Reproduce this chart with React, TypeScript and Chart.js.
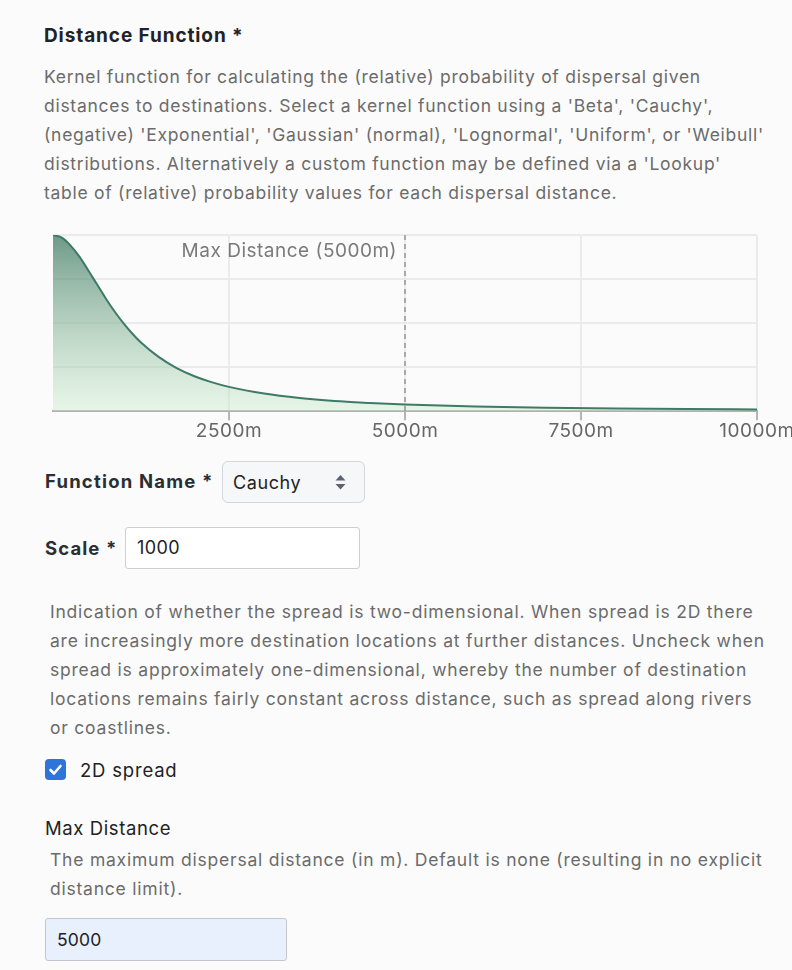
import React, { useEffect, useRef } from "react";
import { Chart, registerables } from "chart.js";

Chart.register(...registerables);

// ---- data ----
const distances = [0, 125, 250, 375, 500, 625, 750, 875, 1000, 1125, 1250, 1500, 1750, 2000, 2250, 2500, 3000, 3500, 4000, 4500, 5000, 6000, 7000, 8000, 9000, 10000];
const probability = [1.0, 0.985, 0.94, 0.877, 0.8, 0.72, 0.64, 0.566, 0.5, 0.441, 0.39, 0.308, 0.246, 0.2, 0.165, 0.138, 0.1, 0.075, 0.058, 0.047, 0.038, 0.027, 0.02, 0.015, 0.012, 0.01];
const xTickValues = [2500, 5000, 7500, 10000];
const yTickValues = [0, 0.25, 0.5, 0.75, 1];
const maxDistance = 5000;
const maxDistanceLabel = "Max Distance (5000m)";

const descLines = [
  "Kernel function for calculating the (relative) probability of dispersal given",
  "distances to destinations. Select a kernel function using a 'Beta', 'Cauchy',",
  "(negative) 'Exponential', 'Gaussian' (normal), 'Lognormal', 'Uniform', or 'Weibull'",
  "distributions. Alternatively a custom function may be defined via a 'Lookup'",
  "table of (relative) probability values for each dispersal distance.",
];
const spreadLines = [
  "Indication of whether the spread is two-dimensional. When spread is 2D there",
  "are increasingly more destination locations at further distances. Uncheck when",
  "spread is approximately one-dimensional, whereby the number of destination",
  "locations remains fairly constant across distance, such as spread along rivers",
  "or coastlines.",
];
const maxDistLines = [
  "The maximum dispersal distance (in m). Default is none (resulting in no explicit",
  "distance limit).",
];

const FONT = "Inter, 'Noto Sans', sans-serif";
const CANVAS_LS = "0.5px";

function T(props: { x: number; y: number; size: number; weight?: number; color: string; lh?: number; children: any; ls?: number }) {
  const lh = props.lh ?? 28;
  return (
    <div
      style={{
        position: "absolute",
        left: props.x,
        top: props.y - lh / 2,
        lineHeight: lh + "px",
        fontSize: props.size,
        fontWeight: props.weight ?? 400,
        color: props.color,
        whiteSpace: "nowrap",
        letterSpacing: props.ls ?? 0,
      }}
    >
      {props.children}
    </div>
  );
}

function Lines(props: { x: number; y0: number; step: number; size: number; color: string; lines: string[]; ls?: number }) {
  return (
    <>
      {props.lines.map((l, i) => (
        <T key={i} x={props.x} y={props.y0 + i * props.step} size={props.size} color={props.color} ls={props.ls}>
          {l}
        </T>
      ))}
    </>
  );
}

const spacingPlugin = {
  id: "spacing",
  beforeUpdate(chart: any) {
    chart.ctx.letterSpacing = CANVAS_LS;
  },
  beforeDraw(chart: any) {
    chart.ctx.letterSpacing = CANVAS_LS;
  },
};

const maxLinePlugin = {
  id: "maxLine",
  afterDatasetsDraw(chart: any) {
    const { ctx, chartArea, scales } = chart;
    const x = scales.x.getPixelForValue(maxDistance);
    ctx.save();
    ctx.strokeStyle = "#9a9a9a";
    ctx.lineWidth = 1.6;
    ctx.setLineDash([5, 4]);
    ctx.beginPath();
    ctx.moveTo(x, chartArea.top);
    ctx.lineTo(x, chartArea.bottom);
    ctx.stroke();
    ctx.setLineDash([]);
    ctx.fillStyle = "#7a7a7a";
    ctx.font = "19px " + FONT;
    ctx.letterSpacing = CANVAS_LS;
    ctx.textAlign = "right";
    ctx.textBaseline = "middle";
    ctx.fillText(maxDistanceLabel, x - 8, chartArea.top + 16);
    ctx.restore();
  },
};

function KernelChart() {
  const ref = useRef<HTMLCanvasElement>(null);
  useEffect(() => {
    const canvas = ref.current!;
    const chart = new Chart(canvas, {
      type: "line",
      data: {
        datasets: [
          {
            data: distances.map((d, i) => ({ x: d, y: probability[i] })),
            borderColor: "#3f7a66",
            borderWidth: 2,
            pointRadius: 0,
            tension: 0.4,
            cubicInterpolationMode: "monotone",
            fill: "origin",
            backgroundColor: (c: any) => {
              const area = c.chart.chartArea;
              if (!area) return "rgba(60,120,95,0.4)";
              const g = c.chart.ctx.createLinearGradient(0, area.top, 0, area.bottom);
              g.addColorStop(0, "rgba(55,115,92,0.72)");
              g.addColorStop(1, "rgba(200,235,200,0.4)");
              return g;
            },
          },
        ],
      },
      options: {
        animation: false,
        responsive: false,
        devicePixelRatio: 1,
        layout: { padding: { left: 8, right: 35, top: 10, bottom: 14 } },
        plugins: { legend: { display: false }, tooltip: { enabled: false } },
        scales: {
          x: {
            type: "linear",
            min: 0,
            max: 10000,
            afterBuildTicks: (s: any) => {
              s.ticks = xTickValues.map((v) => ({ value: v }));
            },
            afterFit: (s: any) => {
              s.paddingLeft = 0;
              s.paddingRight = 0;
            },
            ticks: {
              callback: (v: any) => v + "m",
              color: "#666",
              font: { family: FONT, size: 19 },
              padding: 0,
              maxRotation: 0,
            },
            grid: { color: "#ebebeb", lineWidth: 2, tickColor: "#b5b5b5", tickLength: 9 },
            border: { color: "#b0b0b0", width: 2 },
          },
          y: {
            min: 0,
            max: 1,
            afterBuildTicks: (s: any) => {
              s.ticks = yTickValues.map((v) => ({ value: v }));
            },
            ticks: { display: false },
            grid: { color: "#ebebeb", lineWidth: 2, drawTicks: false },
            border: { display: false },
          },
        },
      },
      plugins: [spacingPlugin, maxLinePlugin],
    } as any);
    return () => chart.destroy();
  }, []);
  return (
    <canvas
      ref={ref}
      width={747}
      height={232}
      style={{ position: "absolute", left: 45, top: 225, width: 747, height: 232 }}
    />
  );
}

export default function App() {
  return (
    <div
      style={{
        position: "absolute",
        left: 0,
        top: 0,
        width: 792,
        height: 970,
        overflow: "hidden",
        background: "#fbfbfb",
        fontFamily: FONT,
      }}
    >
      <T x={44} y={36} size={19} weight={700} color="#1f2328" ls={0.9}>
        Distance Function *
      </T>
      <Lines x={44} y0={76.5} step={29.1} size={17.5} ls={0.72} color="#6b6b6b" lines={descLines} />

      <KernelChart />

      <T x={45} y={481} size={18.5} weight={700} color="#2b2f33" ls={1.2}>
        Function Name *
      </T>
      <div
        style={{
          position: "absolute",
          left: 222,
          top: 461,
          width: 143,
          height: 42,
          boxSizing: "border-box",
          border: "1px solid #d3d6da",
          borderRadius: 6,
          background: "#f6f7f9",
        }}
      />
      <T x={233} y={483} size={18} color="#222" ls={0.6}>
        Cauchy
      </T>
      <svg style={{ position: "absolute", left: 335, top: 474 }} width={11} height={17}>
        <polygon points="0.5,6.5 5.5,1 10.5,6.5" fill="#5b6572" />
        <polygon points="0.5,10 5.5,15.5 10.5,10" fill="#5b6572" />
      </svg>

      <T x={45} y={548} size={18.5} weight={700} color="#2b2f33" ls={1.1}>
        Scale *
      </T>
      <div
        style={{
          position: "absolute",
          left: 125,
          top: 527,
          width: 235,
          height: 42,
          boxSizing: "border-box",
          border: "1px solid #cfcfcf",
          borderRadius: 3,
          background: "#fff",
        }}
      />
      <T x={137} y={548} size={18} color="#222" ls={0.4}>
        1000
      </T>

      <Lines x={50} y0={612} step={29} size={17.5} ls={0.78} color="#6b6b6b" lines={spreadLines} />

      <div
        style={{
          position: "absolute",
          left: 45,
          top: 759,
          width: 21,
          height: 21,
          borderRadius: 4,
          background: "#2f74d9",
        }}
      >
        <svg width={21} height={21} style={{ position: "absolute", left: 0, top: 0 }}>
          <polyline points="5.5,11 9,14.5 15.5,7" fill="none" stroke="#fff" strokeWidth={2.6} strokeLinecap="round" strokeLinejoin="round" />
        </svg>
      </div>
      <T x={80} y={770} size={18.5} color="#222" ls={0.8}>
        2D spread
      </T>

      <T x={45} y={828} size={18.5} color="#222" ls={0.6}>
        Max Distance
      </T>
      <Lines x={50} y0={860} step={29} size={17.5} ls={0.78} color="#6b6b6b" lines={maxDistLines} />

      <div
        style={{
          position: "absolute",
          left: 45,
          top: 918,
          width: 242,
          height: 43,
          boxSizing: "border-box",
          border: "1px solid #c3c7cc",
          borderRadius: 3,
          background: "#e8f0fe",
        }}
      />
      <T x={57} y={940} size={17.5} color="#222" ls={0.2}>
        5000
      </T>
    </div>
  );
}
